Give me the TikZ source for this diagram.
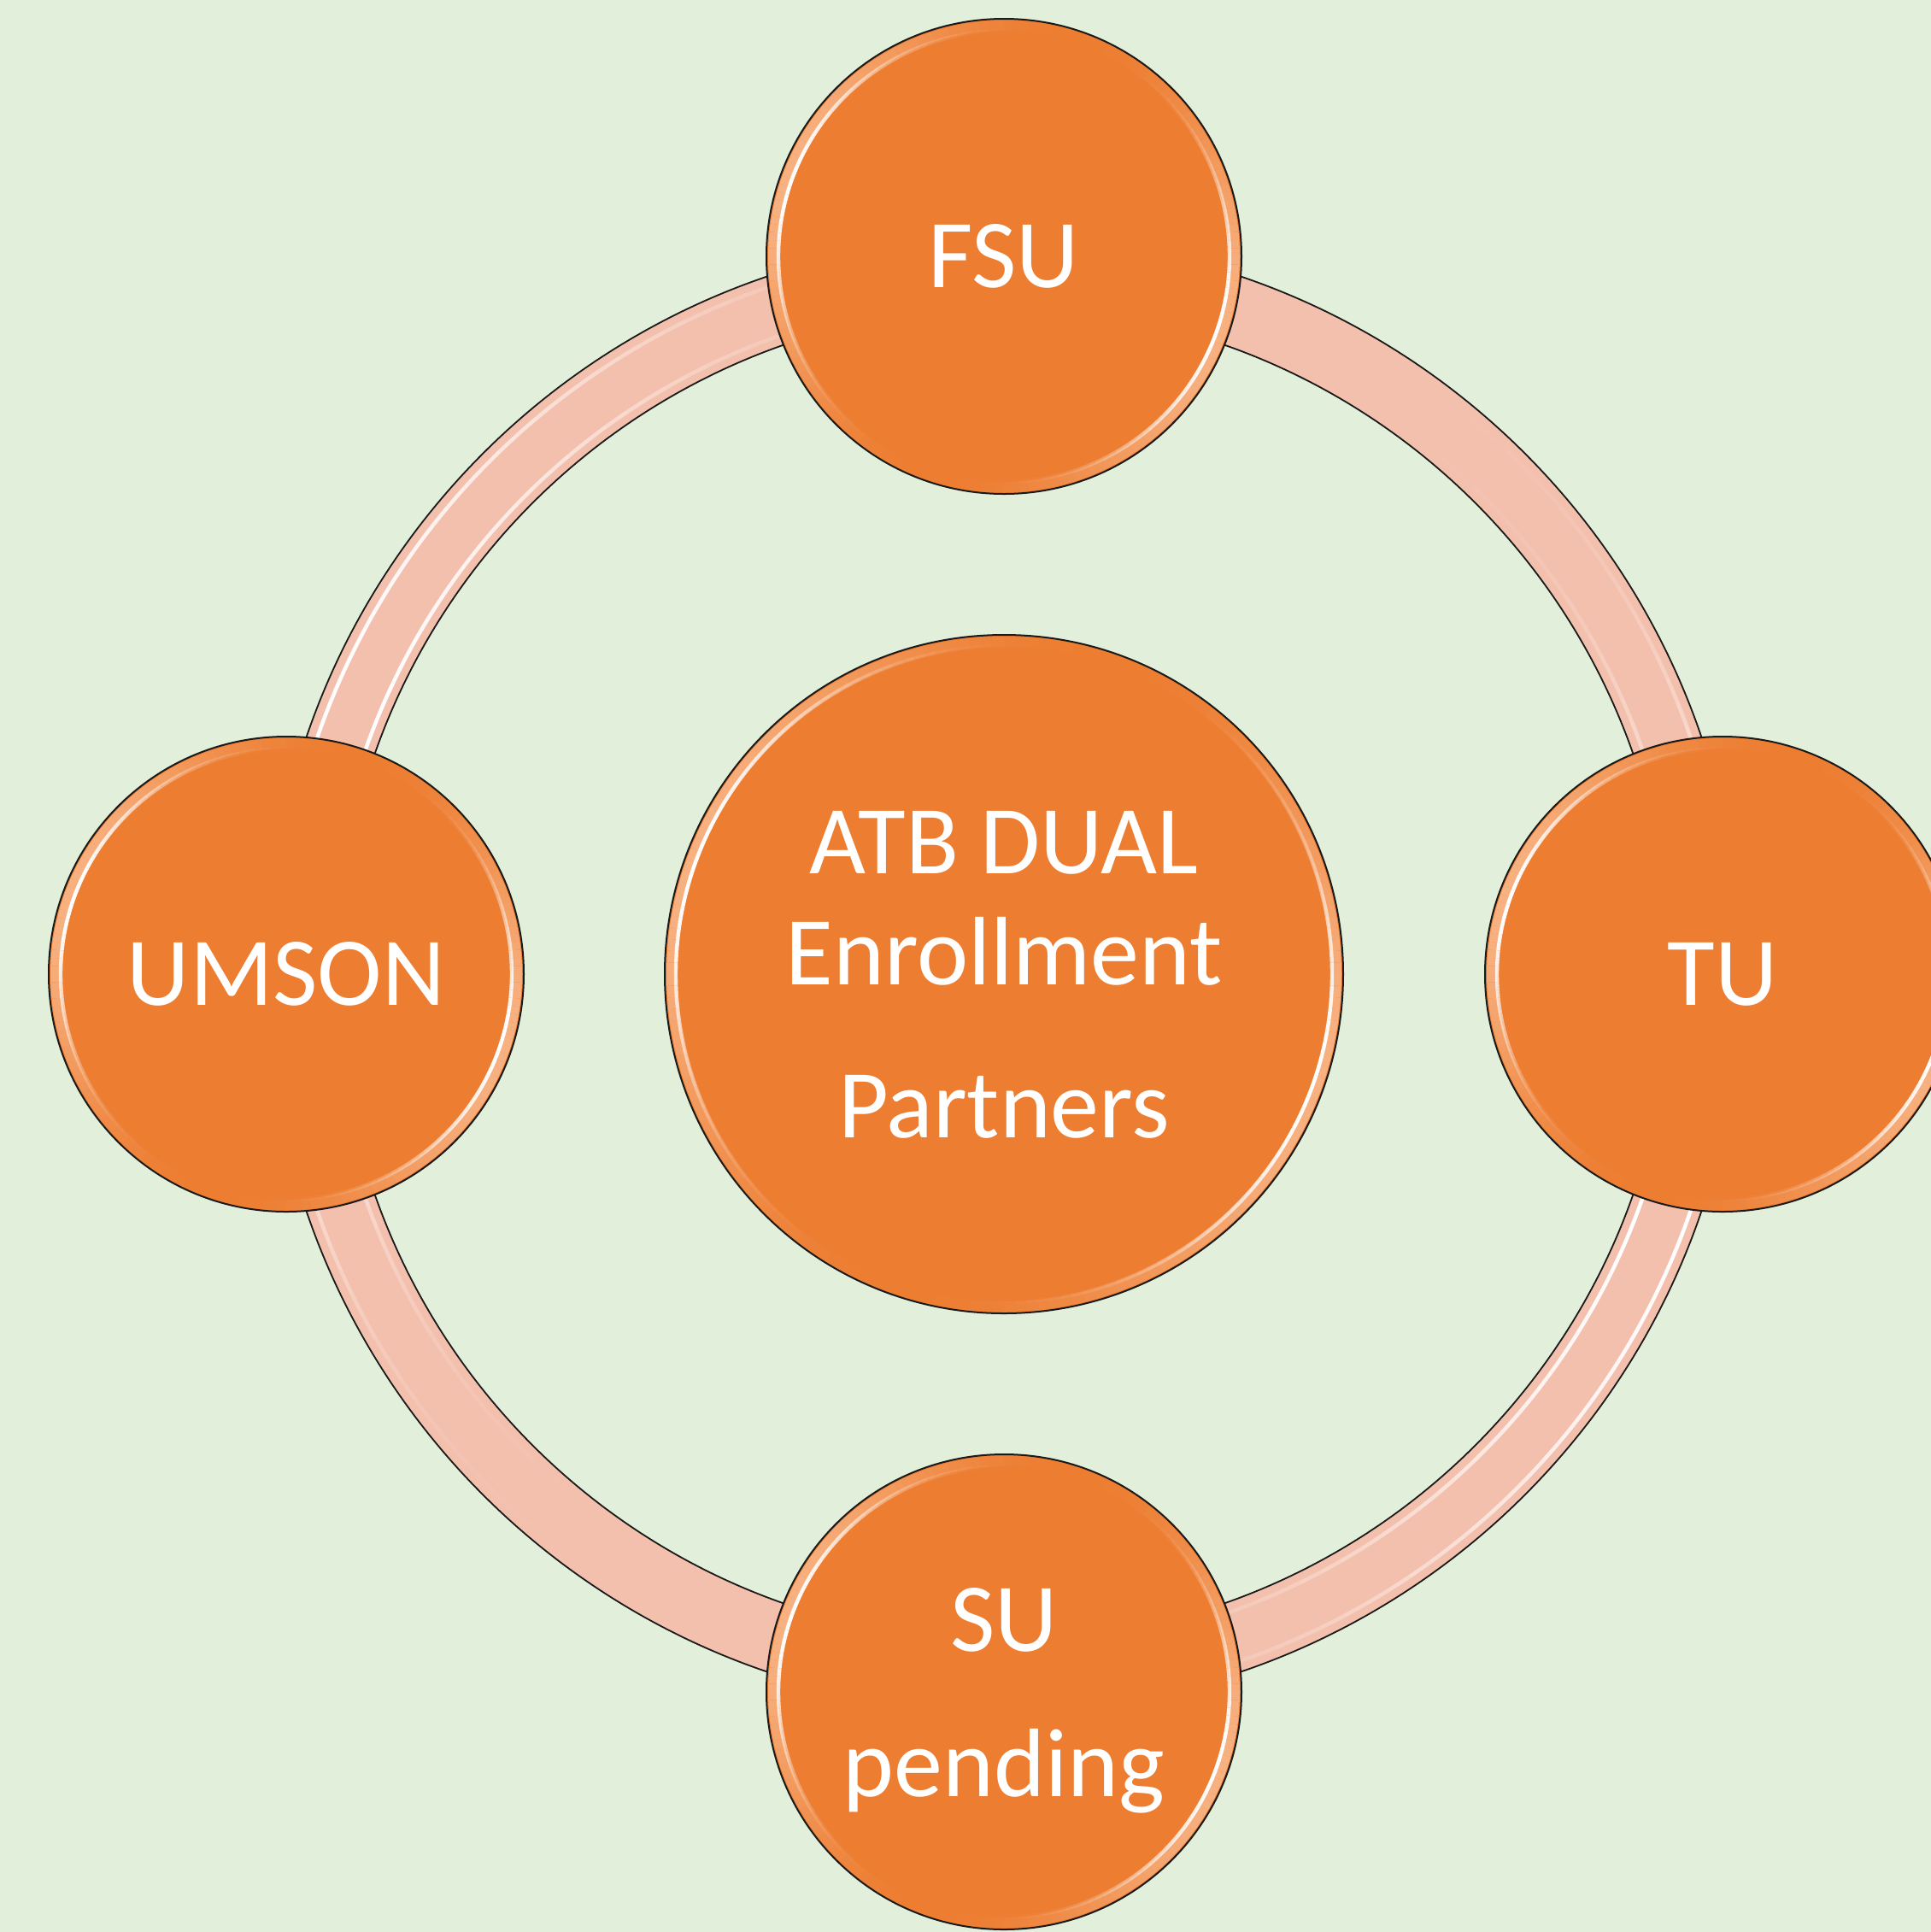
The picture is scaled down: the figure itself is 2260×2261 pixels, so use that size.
\documentclass[tikz,border=0pt]{standalone}
\usepackage{fontspec}
\setmainfont{Carlito}
\definecolor{bg}{HTML}{E2EFDA}
\definecolor{orng}{HTML}{ED7D31}
\definecolor{ringc}{HTML}{F4C0AE}
\definecolor{edgec}{HTML}{1A1A1A}
\definecolor{glowc}{HTML}{F8B282}
\tikzset{
  ball/.style={circle, draw=edgec, line width=1pt, fill=orng, text=white,
    inner sep=0pt, align=center, font=\fontsize{57}{65}\selectfont},
  satball/.style={ball, minimum size=278pt},
  bigball/.style={ball, minimum size=397pt},
}
% highlight arcs around a named centre: #1 centre, #2 radius, #3 colour, #4 width, #5 exponent
\newcommand{\myshine}[5]{%
  \foreach \a in {0,2,...,358} {
    \pgfmathsetmacro\op{abs(cos(\a-160))^#5}
    \draw[#3, line width=#4, opacity=\op, line cap=butt]
      ([shift={(\a:#2)}]#1) arc[start angle=\a, end angle=\a+2, radius=#2];
  }%
}
\begin{document}
\begin{tikzpicture}[x=0.5pt,y=-0.5pt]
\useasboundingbox (0,0) rectangle (2260,2261);
\clip (0,0) rectangle (2260,2261);
\fill[bg] (0,0) rectangle (2260,2261);

\coordinate (C) at (1175,1140);

% ring
\filldraw[ringc, draw=edgec, line width=0.9pt, even odd rule]
  (C) circle[radius=431pt] (C) circle[radius=390pt];
\myshine{C}{425pt}{white}{2.2pt}{4}
\myshine{C}{396pt}{white}{2.2pt}{4}

% circles
\node[bigball, text depth=0pt] (atb) at (C) {ATB DUAL\\Enrollment\\[24.5pt]Partners};
\node[satball] (fsu) at (1175,300) {FSU};
\node[satball] (tu) at (2016,1140) {TU};
\node[satball] (umson) at (335,1140) {UMSON};
\node[satball, text depth=0pt] (su) at (1175,1980) {SU\\[20pt]pending};

% bevel glow and highlights
\myshine{atb.center}{194.5pt}{glowc}{6pt}{2}
\myshine{fsu.center}{135pt}{glowc}{6pt}{2}
\myshine{tu.center}{135pt}{glowc}{6pt}{2}
\myshine{umson.center}{135pt}{glowc}{6pt}{2}
\myshine{su.center}{135pt}{glowc}{6pt}{2}
\myshine{atb.center}{192pt}{white}{2.2pt}{4}
\myshine{fsu.center}{132pt}{white}{2.2pt}{4}
\myshine{tu.center}{132pt}{white}{2.2pt}{4}
\myshine{umson.center}{132pt}{white}{2.2pt}{4}
\myshine{su.center}{132pt}{white}{2.2pt}{4}
\end{tikzpicture}
\end{document}
